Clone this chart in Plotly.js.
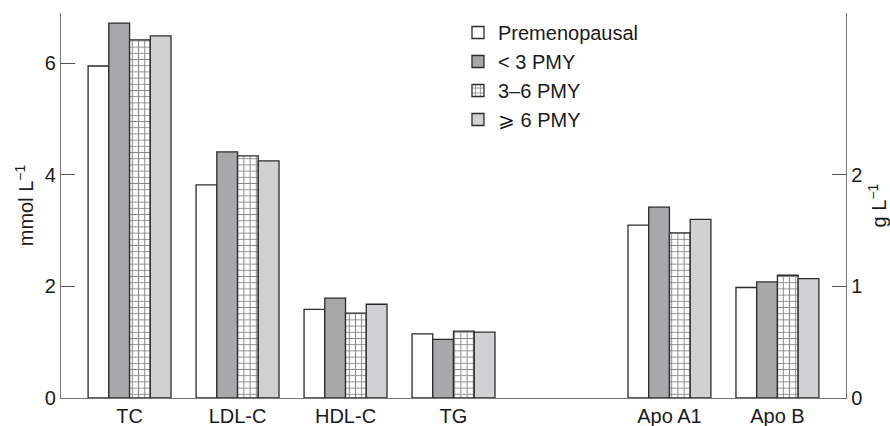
<!DOCTYPE html>
<html>
<head>
<meta charset="utf-8">
<script src="https://cdn.plot.ly/plotly-3.0.1.min.js"></script>
<style>html,body{margin:0;padding:0;background:#fff;}#chart{width:890px;height:426px;}</style>
</head>
<body>
<div id="chart"></div>
<script>
// Categories
const lipidCats = ['TC', 'LDL-C', 'HDL-C', 'TG'];       // mmol/L (left axis)
const apoCats = ['Apo A1', 'Apo B'];                    // g/L (right axis)
const categoryOrder = ['TC', 'LDL-C', 'HDL-C', 'TG', ' ', 'Apo A1', 'Apo B'];
const tickLabels = ['TC', 'LDL-C', 'HDL-C', 'TG', 'Apo A1', 'Apo B'];
const seriesNames = ['Premenopausal', '< 3 PMY', '3\u20136 PMY', '\u2a7e 6 PMY'];

// Values, mmol/L
const premLipid = [5.95, 3.82, 1.59, 1.15];
const lt3Lipid  = [6.72, 4.41, 1.79, 1.05];
const mid36Lipid = [6.42, 4.34, 1.52, 1.20];
const ge6Lipid  = [6.49, 4.25, 1.68, 1.18];

// Values, g/L
const premApo = [1.55, 0.99];
const lt3Apo  = [1.71, 1.04];
const mid36Apo = [1.48, 1.10];
const ge6Apo  = [1.60, 1.07];

const lipidSeries = [premLipid, lt3Lipid, mid36Lipid, ge6Lipid];
const apoSeries = [premApo, lt3Apo, mid36Apo, ge6Apo];

const outline = {color: '#2b2b2b', width: 1.3};
const styles = [
  {color: '#ffffff', line: outline},
  {color: '#a8a8ab', line: outline},
  {color: '#ffffff', line: outline, pattern: {shape: '+', size: 6.2, solidity: 0.3, fgcolor: '#111111', bgcolor: '#ffffff', fillmode: 'overlay'}},
  {color: '#d1d1d3', line: outline}
];

const traces = [];
seriesNames.forEach((name, i) => {
  traces.push({type: 'bar', name: name, x: lipidCats, y: lipidSeries[i],
    xaxis: 'x', yaxis: 'y', marker: styles[i], legendgroup: 'g' + i, hoverinfo: 'x+y+name'});
});
seriesNames.forEach((name, i) => {
  traces.push({type: 'bar', name: name, x: apoCats, y: apoSeries[i],
    xaxis: 'x', yaxis: 'y2', marker: styles[i], legendgroup: 'g' + i, showlegend: false, hoverinfo: 'x+y+name'});
});

const font = {family: 'Liberation Sans, Arial, Helvetica, sans-serif', size: 20, color: '#1a1a1a'};

const layout = {
  width: 890, height: 426,
  margin: {l: 61, r: 44, t: 13, b: 28, pad: 0},
  paper_bgcolor: '#ffffff', plot_bgcolor: '#ffffff',
  font: font,
  barmode: 'group', bargap: 0.232, bargroupgap: 0,
  showlegend: true,
  legend: {x: 0.5057, xanchor: 'left', y: 1.0, yanchor: 'top', bgcolor: 'rgba(0,0,0,0)',
    font: {family: font.family, size: 20, color: '#1a1a1a'}, tracegroupgap: 0, traceorder: 'normal'},
  xaxis: {type: 'category', categoryorder: 'array', categoryarray: categoryOrder,
    tickvals: tickLabels, ticktext: tickLabels,
    range: [-0.635, 6.635], showline: true, linecolor: '#777777', linewidth: 1.2,
    ticks: '', showgrid: false, zeroline: false, fixedrange: true,
    tickfont: font, automargin: false},
  yaxis: {range: [0, 6.9], tickvals: [0, 2, 4, 6], ticktext: ['0', '2', '4', '6'],
    ticks: 'inside', ticklen: 14, tickcolor: '#555555', tickwidth: 1.2,
    showline: true, linecolor: '#777777', linewidth: 1.2, showgrid: false, zeroline: false,
    tickfont: font, automargin: false,
    title: {text: 'mmol L<sup>\u22121</sup>', font: font, standoff: 5}},
  yaxis2: {overlaying: 'y', side: 'right', range: [0, 3.45], tickvals: [0, 1, 2], ticktext: ['0', '1', '2'],
    ticks: 'inside', ticklen: 14, tickcolor: '#555555', tickwidth: 1.2,
    showline: true, linecolor: '#777777', linewidth: 1.2, showgrid: false, zeroline: false,
    tickfont: font, automargin: false,
    title: {text: 'g L<sup>\u22121</sup>', font: font, standoff: 12}}
};

Plotly.newPlot('chart', traces, layout, {staticPlot: true, displayModeBar: false});
</script>
</body>
</html>
